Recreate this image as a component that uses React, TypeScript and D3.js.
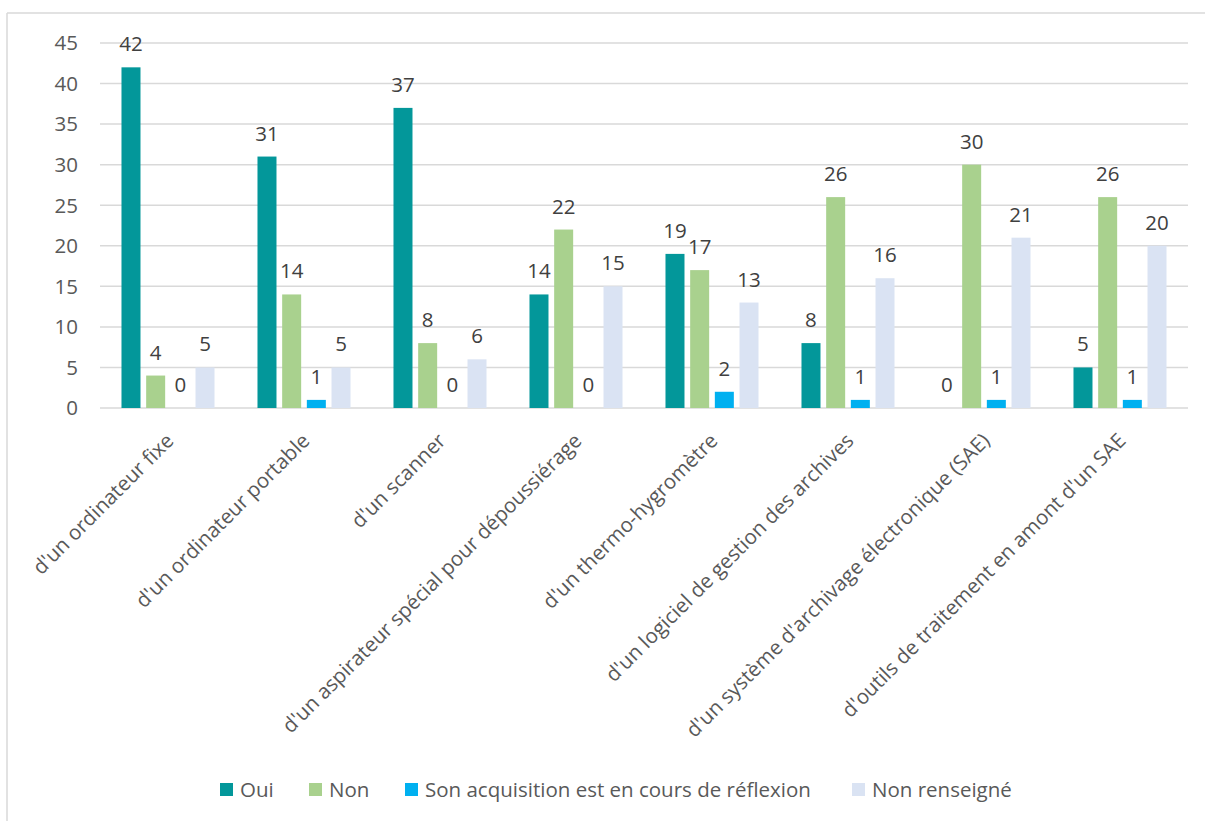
import React from "react";
import * as d3 from "d3";

const categories = [
  "d'un ordinateur fixe",
  "d'un ordinateur portable",
  "d'un scanner",
  "d'un aspirateur spécial pour dépoussiérage",
  "d'un thermo-hygromètre",
  "d'un logiciel de gestion des archives",
  "d'un système d'archivage électronique (SAE)",
  "d'outils de traitement en amont d'un SAE",
];
const seriesNames = ["Oui", "Non", "Son acquisition est en cours de réflexion", "Non renseigné"];
const oui = [42, 31, 37, 14, 19, 8, 0, 5];
const non = [4, 14, 8, 22, 17, 26, 30, 26];
const reflexion = [0, 1, 0, 0, 2, 1, 1, 1];
const nonRenseigne = [5, 5, 6, 15, 13, 16, 21, 20];
const yTicks = [0, 5, 10, 15, 20, 25, 30, 35, 40, 45];
const colors = ["#03979A", "#A9D18E", "#00B0F0", "#DAE3F3"];

const W = 1205;
const H = 821;
const FONT = "'Open Sans', sans-serif";
const FS = 20.5;

export default function App() {
  const seriesValues = [oui, non, reflexion, nonRenseigne];
  const x0 = d3.scaleBand<string>().domain(categories).range([100, 1188]).paddingInner(0.316).paddingOuter(0.158);
  const x1 = d3
    .scaleBand<string>()
    .domain(seriesNames)
    .range([0, x0.bandwidth()])
    .paddingInner(0.23);
  const y = d3.scaleLinear().domain([0, 45]).range([408, 43]);

  const legendItems = [
    { x: 220, textX: 240 },
    { x: 309, textX: 329 },
    { x: 405, textX: 425 },
    { x: 852, textX: 872 },
  ];

  return (
    <svg width={W} height={H} style={{ position: "absolute", left: 0, top: 0, background: "#fff" }}>
      <rect x={0} y={0} width={W} height={H} fill="#fff" />
      {/* frame */}
      <line x1={7} y1={13} x2={W} y2={13} stroke="#d9d9d9" strokeWidth={1.5} />
      <line x1={7} y1={13} x2={7} y2={H} stroke="#d9d9d9" strokeWidth={1.5} />
      {/* gridlines */}
      {yTicks.map((t) => (
        <g key={t}>
          <line x1={100} x2={1188} y1={y(t)} y2={y(t)} stroke="#d9d9d9" strokeWidth={1.5} />
          <text
            x={78}
            y={y(t)}
            dy="0.36em"
            textAnchor="end"
            fontFamily={FONT}
            fontSize={FS}
            fill="#595959"
          >
            {t}
          </text>
        </g>
      ))}
      {/* bars */}
      {categories.map((c, ci) => (
        <g key={c} transform={`translate(${x0(c)},0)`}>
          {seriesNames.map((s, si) => {
            const v = seriesValues[si][ci];
            const bx = x1(s)!;
            return (
              <g key={s}>
                <rect x={bx} y={y(v)} width={x1.bandwidth()} height={y(0) - y(v)} fill={colors[si]} />
                <text
                  x={bx + x1.bandwidth() / 2}
                  y={y(v) - 16}
                  textAnchor="middle"
                  fontFamily={FONT}
                  fontSize={FS}
                  fill="#404040"
                >
                  {v}
                </text>
              </g>
            );
          })}
        </g>
      ))}
      {/* category labels */}
      {categories.map((c) => {
        const cx = x0(c)! + x0.bandwidth() / 2;
        return (
          <text
            key={c}
            transform={`translate(${cx + 7},${442}) rotate(-45)`}
            textAnchor="end"
            fontFamily={FONT}
            fontSize={FS}
            fill="#595959"
          >
            {c}
          </text>
        );
      })}
      {/* legend */}
      {seriesNames.map((s, i) => (
        <g key={s}>
          <rect x={legendItems[i].x} y={783} width={13} height={13} fill={colors[i]} />
          <text x={legendItems[i].textX} y={790} dy="0.36em" fontFamily={FONT} fontSize={FS} fill="#595959">
            {s}
          </text>
        </g>
      ))}
    </svg>
  );
}
